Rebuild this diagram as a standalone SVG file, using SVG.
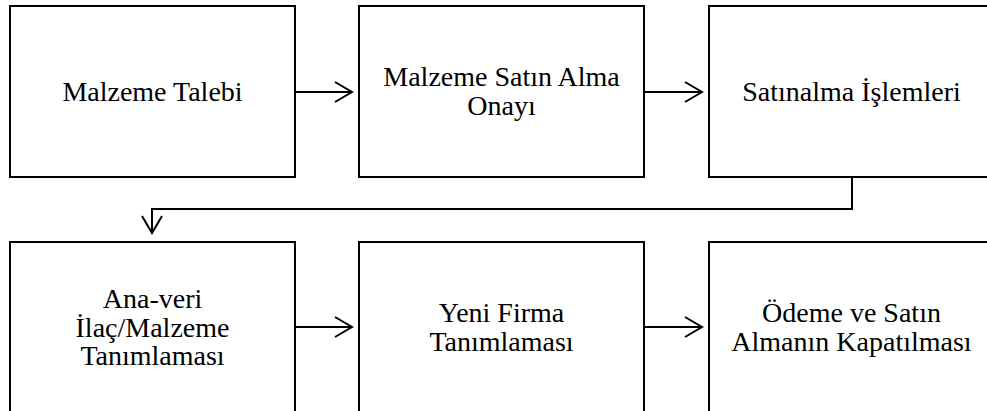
<svg xmlns="http://www.w3.org/2000/svg" width="987" height="411" viewBox="0 0 987 411">
<style>
.box{fill:#fff;stroke:#000;stroke-width:2}
.lbl{font-family:'Liberation Serif','Times New Roman','DejaVu Serif',serif;font-size:28px;fill:#000;text-anchor:middle}
.con{fill:none;stroke:#000;stroke-width:2}
</style>
<defs>
<marker id="arr" markerUnits="userSpaceOnUse" viewBox="-20 -12 22 24" refX="0" refY="0" markerWidth="22" markerHeight="24" orient="auto">
<path d="M-17,-10 L0,0 L-17,10" fill="none" stroke="#000" stroke-width="2"/>
</marker>
</defs>
<rect width="987" height="411" fill="#fff"/>
<g id="n1"><rect class="box" x="10" y="6" width="285" height="171"/><text class="lbl" x="152.5" y="101">Malzeme Talebi</text></g>
<g id="n2"><rect class="box" x="359" y="6" width="285" height="171"/><text class="lbl" x="501.5" y="86">Malzeme Satın Alma</text><text class="lbl" x="501.5" y="115">Onayı</text></g>
<g id="n3"><rect class="box" x="709" y="6" width="285" height="171"/><text class="lbl" x="851.5" y="101">Satınalma İşlemleri</text></g>
<g id="n4"><rect class="box" x="10" y="242" width="285" height="180"/><text class="lbl" x="152.5" y="308">Ana-veri</text><text class="lbl" x="152.5" y="337">İlaç/Malzeme</text><text class="lbl" x="152.5" y="365">Tanımlaması</text></g>
<g id="n5"><rect class="box" x="359" y="242" width="285" height="180"/><text class="lbl" x="501.5" y="322">Yeni Firma</text><text class="lbl" x="501.5" y="351">Tanımlaması</text></g>
<g id="n6"><rect class="box" x="709" y="242" width="285" height="180"/><text class="lbl" x="851.5" y="322">Ödeme ve Satın</text><text class="lbl" x="851.5" y="351">Almanın Kapatılması</text></g>
<g id="connectors">
<line class="con" x1="295" y1="92" x2="352" y2="92" marker-end="url(#arr)"/>
<line class="con" x1="644" y1="92" x2="702" y2="92" marker-end="url(#arr)"/>
<polyline class="con" points="852,177 852,209 152,209 152,233" marker-end="url(#arr)"/>
<line class="con" x1="295" y1="327" x2="352" y2="327" marker-end="url(#arr)"/>
<line class="con" x1="644" y1="327" x2="702" y2="327" marker-end="url(#arr)"/>
</g>
</svg>
